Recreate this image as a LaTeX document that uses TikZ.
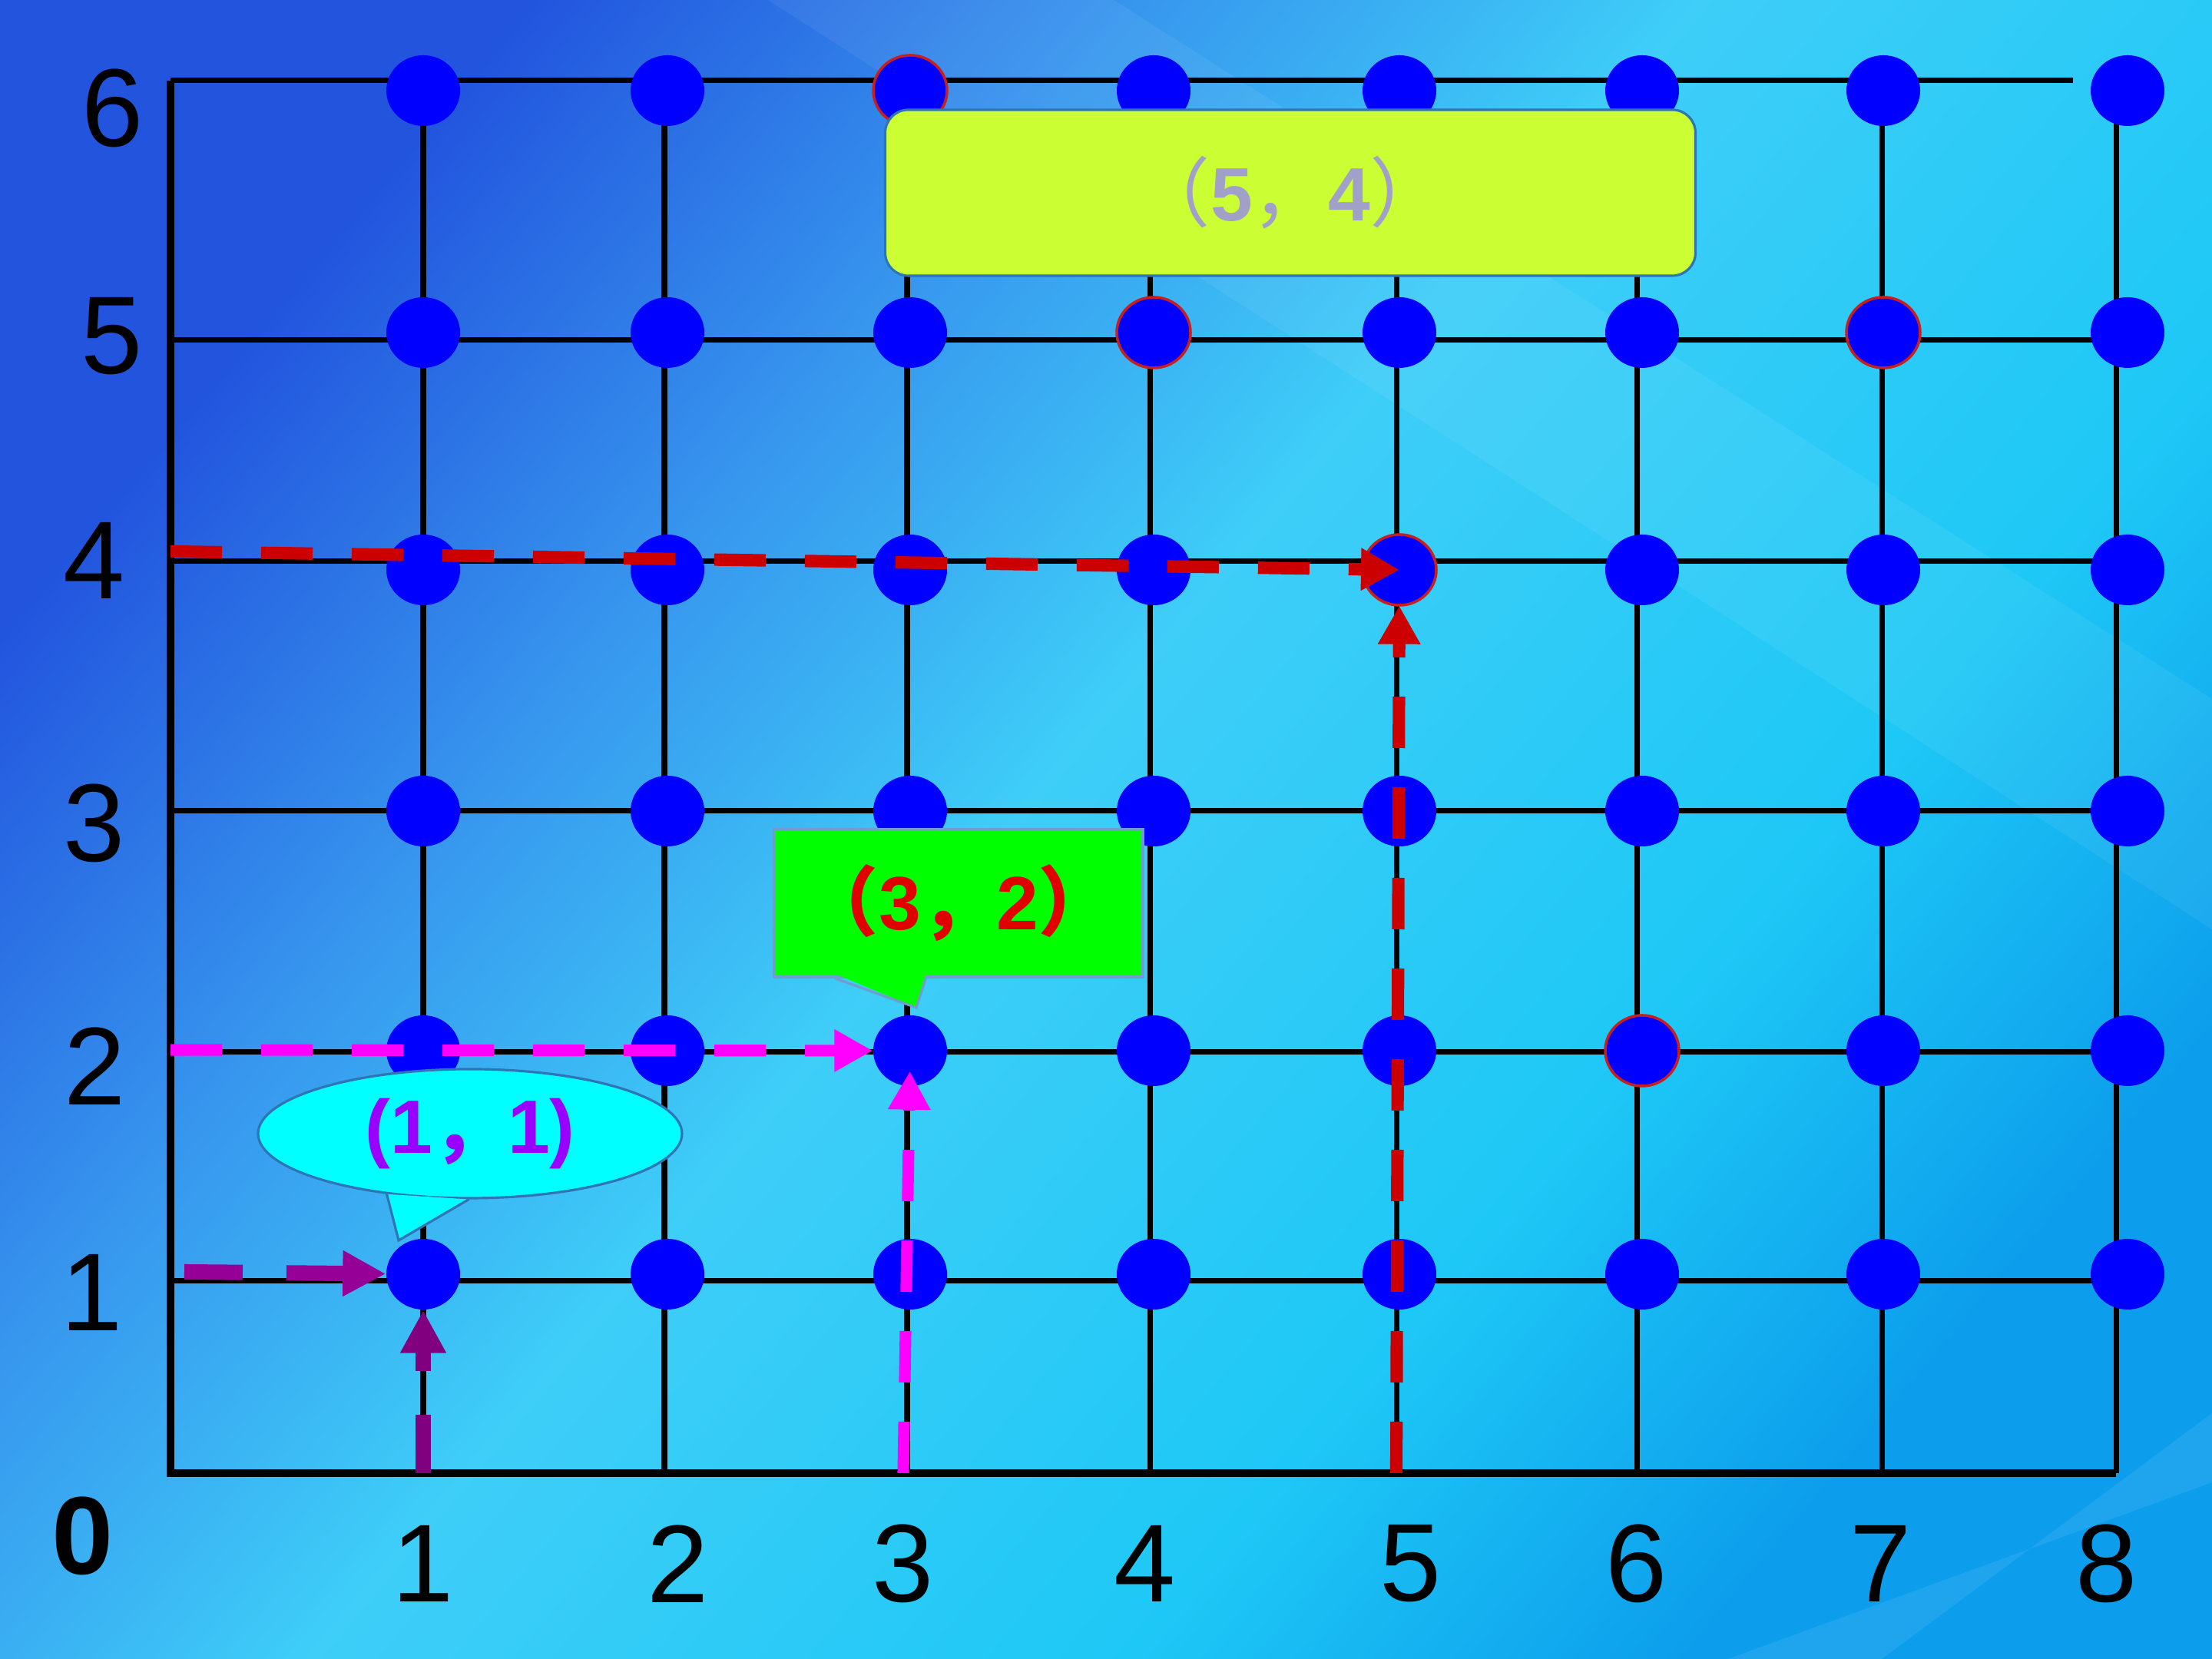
\documentclass[tikz,border=0pt]{standalone}
\usepackage{fontspec}
\setmainfont{Liberation Sans}
\newfontfamily\cjk{Noto Sans CJK SC}
\usetikzlibrary{arrows.meta,shapes.geometric}

\definecolor{skyA}{RGB}{34,84,222}
\definecolor{skyB}{RGB}{55,150,238}
\definecolor{skyC}{RGB}{62,206,248}
\definecolor{skyD}{RGB}{30,200,246}
\definecolor{skyE}{RGB}{12,158,236}
\definecolor{dotblue}{RGB}{0,0,255}
\definecolor{ringred}{RGB}{200,30,30}
\definecolor{limefill}{RGB}{204,255,51}
\definecolor{greenfill}{RGB}{0,255,0}
\definecolor{cyanfill}{RGB}{0,255,255}
\definecolor{edgeblue}{RGB}{46,117,182}
\definecolor{txtgray}{RGB}{160,160,200}
\definecolor{txtred}{RGB}{225,0,0}
\definecolor{txtviolet}{RGB}{153,0,255}
\definecolor{purpleA}{RGB}{150,0,150}
\definecolor{purpleB}{RGB}{128,0,128}
\definecolor{arrmagenta}{RGB}{255,0,255}
\definecolor{arrred}{RGB}{204,0,0}

\pgfdeclarehorizontalshading{skyshade}{100bp}{color(0bp)=(skyA); color(25bp)=(skyA); color(37bp)=(skyB); color(48bp)=(skyC); color(64bp)=(skyD); color(75bp)=(skyE); color(100bp)=(skyE)}

\begin{document}
\begin{tikzpicture}[
    dot/.style={ellipse, fill=dotblue, minimum width=0.96cm, minimum height=0.92cm, inner sep=0pt},
    ring/.style={draw=ringred, line width=1pt},
    gridline/.style={line width=2pt},
    axisline/.style={line width=2.6pt},
    numlbl/.style={font=\fontsize{41}{41}\selectfont, inner sep=0pt},
    tag/.style={font=\bfseries\fontsize{28}{28}\selectfont, inner sep=0pt, draw=edgeblue, line width=0.9pt},
    purplearrow/.style={line width=5.7pt, dash pattern=on 0.76cm off 0.57cm, -{Triangle[length=0.56cm, width=0.56cm]}},
    thinarrow/.style={line width=4.6pt, dash pattern=on 0.67cm off 0.51cm, -{Triangle[length=0.5cm, width=0.52cm]}}
]
\useasboundingbox (0,0) rectangle (28.8,21.6);
\shade[shading=skyshade, shading angle=-40] (0,0) rectangle (28.8,21.6);
\fill[white, opacity=0.06] (10,21.6) -- (14.5,21.6) -- (28.8,12.5) -- (28.8,9.5) -- cycle;
\fill[white, opacity=0.08] (22.5,0) -- (24.5,0) -- (28.8,3.2) -- (28.8,2.3) -- cycle;

% grid
\foreach \gx in {5.51,8.65,11.81,14.97,18.18,21.31,24.50,27.55}
    \draw[gridline] (\gx,2.42) -- (\gx,20.55);
\draw[gridline] (2.22,20.55) -- (26.99,20.55);
\foreach \gy in {17.17,14.29,11.04,7.90,4.92}
    \draw[gridline] (2.22,\gy) -- (27.62,\gy);
\draw[axisline] (2.22,20.55) -- (2.22,2.42) -- (27.55,2.42);

% points
\foreach \x/\px in {1/5.51,2/8.69,3/11.85,4/15.02,5/18.22,6/21.38,7/24.52,8/27.70}
    \foreach \y/\py in {1/5.01,2/7.92,3/11.04,4/14.18,5/17.27,6/20.42}
        \node[dot] (\x\y) at (\px,\py) {};
\foreach \n in {36,45,75,54,62}
    \draw[ring] (\n.center) ellipse [x radius=0.48cm, y radius=0.46cm];

% axis numbers
\node[numlbl] (ly6) at (1.47,20.19) {6};
\node[numlbl] (ly5) at (1.46,17.22) {5};
\node[numlbl] (ly4) at (1.23,14.30) {4};
\node[numlbl] (ly3) at (1.23,10.88) {3};
\node[numlbl] (ly2) at (1.24,7.72) {2};
\node[numlbl] (ly1) at (1.20,4.77) {1};
\node[numlbl, font=\bfseries\fontsize{41}{41}\selectfont] (o) at (1.08,1.60) {0};
\node[numlbl] (lx1) at (5.51,1.24) {1};
\node[numlbl] (lx2) at (8.83,1.24) {2};
\node[numlbl] (lx3) at (11.76,1.24) {3};
\node[numlbl] (lx4) at (14.91,1.24) {4};
\node[numlbl] (lx5) at (18.37,1.24) {5};
\node[numlbl] (lx6) at (21.31,1.24) {6};
\node[numlbl] (lx7) at (24.49,1.24) {7};
\node[numlbl] (lx8) at (27.43,1.24) {8};

% callouts
\node[tag, rectangle, rounded corners=0.3cm, fill=limefill, text=txtgray,
      minimum width=10.55cm, minimum height=2.16cm] (c54) at (16.80,19.09)
      {{\cjk\mdseries （}5{\cjk\mdseries ，}4{\cjk\mdseries ）}};

\node[tag, rectangle, fill=greenfill, draw=edgeblue!70, text=txtred,
      minimum width=4.80cm, minimum height=1.92cm] (c32) at (12.48,9.84)
      {{\cjk （}3{\cjk ，}2{\cjk ）}};
\coordinate (tip32) at (11.93,8.48);
\fill[greenfill] ([xshift=0.80cm, yshift=0.06cm]c32.south west) -- (tip32) -- ([xshift=1.99cm, yshift=0.06cm]c32.south west) -- cycle;
\draw[draw=edgeblue!70, line width=0.9pt] ([xshift=0.80cm]c32.south west) -- (tip32) -- ([xshift=1.99cm]c32.south west);

\node[tag, ellipse, fill=cyanfill, text=txtviolet,
      minimum width=5.52cm, minimum height=1.68cm] (c11) at (6.12,6.84)
      {(1{\cjk ，}1)};
\coordinate (tip11) at (5.19,5.45);
\fill[cyanfill] (c11.216) -- (tip11) -- (c11.269) -- cycle;
\draw[draw=edgeblue, line width=0.9pt] (c11.216) -- (tip11) -- (c11.269);

% dashed arrows
\coordinate (h11) at (2.40,5.04);
\coordinate (v11) at (5.51,2.42);
\coordinate (h32) at (2.22,7.93);
\coordinate (v32) at (11.76,2.42);
\coordinate (h54) at (2.22,14.42);
\coordinate (v54) at (18.18,2.42);

\draw[purplearrow, purpleA] (h11) -- (11);
\draw[purplearrow, purpleB] (v11) -- (11);
\draw[thinarrow, arrmagenta, line width=4.3pt] (h32) -- (32);
\draw[thinarrow, arrmagenta, line width=4.3pt, shorten >=-0.2cm] (v32) -- (32);
\draw[thinarrow, arrred] (h54) -- (54.center);
\draw[thinarrow, arrred] (v54) -- (54);
\end{tikzpicture}
\end{document}
